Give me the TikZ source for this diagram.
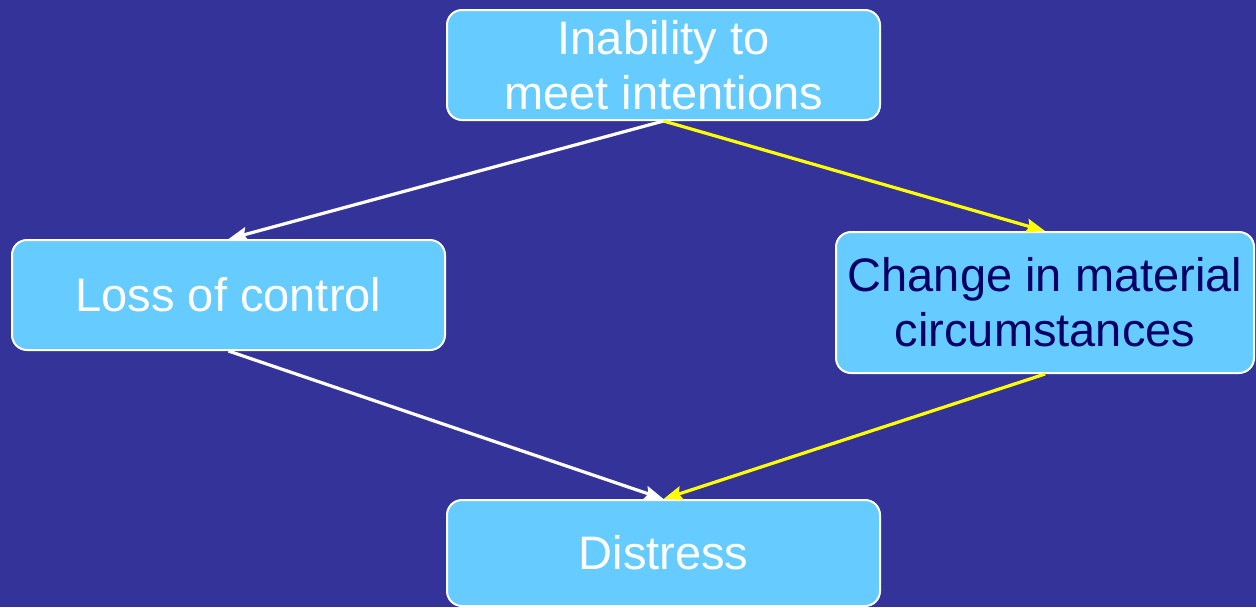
\documentclass[tikz,border=0pt]{standalone}
\usepackage{fontspec}
\setmainfont{Liberation Sans}
\usetikzlibrary{
arrows.meta,
backgrounds,
positioning,
shapes
}
\tikzset{>={Stealth[length=9.5pt,width=7pt,inset=1.5pt]}}

\begin{document}
\begin{tikzpicture}[x=0.5pt, y=-0.5pt, font=\fontsize{23.5}{27.5}\selectfont]
		\definecolor{slidecolor}{RGB}{51,51,153}
		\definecolor{boxcolor}{RGB}{102,204,255}
		\definecolor{darktext}{RGB}{0,0,102}
		\definecolor{hilite}{RGB}{255,255,0}
		\tikzset{box/.style={shape=rectangle,rounded corners=7.5pt,draw=white,line width=1pt,fill=boxcolor,inner sep=0pt,align=center,text=white,minimum width=216.5pt,minimum height=55pt}}
		\tikzset{wa/.style={->,white,line width=1.6pt}}
		\tikzset{ya/.style={->,hilite,line width=1.6pt}}

		% Background
		\fill[slidecolor] (0,0) rectangle (1256,607);
		\useasboundingbox (0,0) rectangle (1256,607);

		% Inability to meet intentions
		\node[box] (inability) at (663.5,65) {Inability to\\ meet intentions};

		% Loss of control
		\node[box] (loss) at (228.5,295) {Loss of control};

		% Change in material circumstances
		\node[box,text=darktext,minimum width=209pt,minimum height=70.5pt] (change) at (1045,302.5) {Change in material\\ circumstances};

		% Distress
		\node[box,minimum height=53pt] (distress) at (663.5,553) {Distress};

		\draw[wa] (inability.south) -- (loss.north);
		\draw[ya] (inability.south) -- (change.north);
		\draw[wa] (loss.south) -- (distress.north);
		\draw[ya] (change.south) -- (distress.north);
	\end{tikzpicture}
\end{document}
